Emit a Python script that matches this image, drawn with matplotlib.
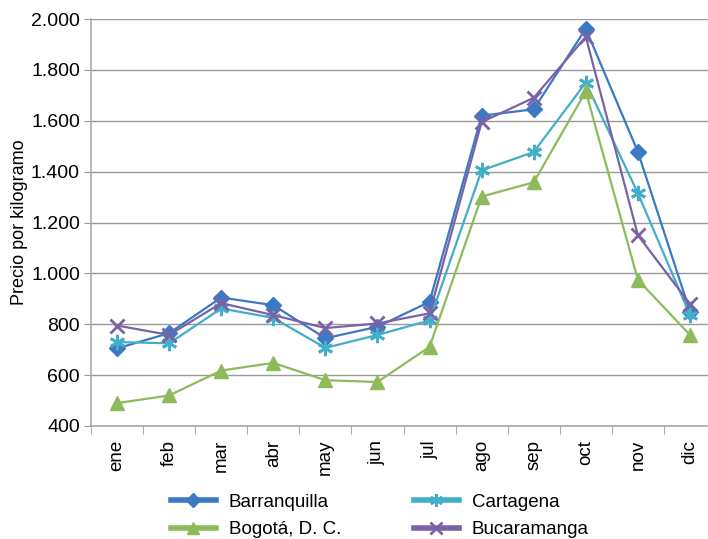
import matplotlib.pyplot as plt
from matplotlib.ticker import FuncFormatter

plt.rcParams["font.family"] = ["Liberation Sans", "DejaVu Sans"]

months = ["ene", "feb", "mar", "abr", "may", "jun", "jul", "ago", "sep", "oct", "nov", "dic"]
barranquilla = [705, 765, 905, 875, 745, 790, 888, 1620, 1645, 1962, 1478, 850]
cartagena = [730, 725, 862, 825, 707, 758, 815, 1405, 1477, 1750, 1315, 836]
bogota = [490, 520, 618, 648, 580, 573, 711, 1302, 1358, 1715, 975, 758]
bucaramanga = [795, 758, 883, 836, 785, 803, 843, 1595, 1690, 1930, 1150, 880]

fig = plt.figure(figsize=(7.08, 5.39), dpi=100)
ax = fig.add_axes([91 / 708, 113 / 539, 625 / 708, 407 / 539])

x = range(len(months))
l1, = ax.plot(x, barranquilla, color="#3C79C4", lw=1.6, marker="D", ms=8, label="Barranquilla")
l3, = ax.plot(x, cartagena, color="#41AECA", lw=1.6, marker=(6, 2, 0), ms=11, mew=2, label="Cartagena")
l2, = ax.plot(x, bogota, color="#8EBB5A", lw=1.6, marker="^", ms=10, label="Bogotá, D. C.")
l4, = ax.plot(x, bucaramanga, color="#7A62A6", lw=1.6, marker="x", ms=10, mew=2, label="Bucaramanga")

ax.set_xlim(-0.5, 11.5)
ax.set_ylim(400, 2000)
ax.set_yticks(range(400, 2001, 200))
ax.yaxis.set_major_formatter(FuncFormatter(lambda v, p: f"{int(v):,}".replace(",", ".")))
ax.set_xticks(list(x))
ax.set_xticklabels(months, rotation=90)
ax.set_xticks([i + 0.5 for i in range(-1, 12)], minor=True)
ax.tick_params(axis="x", which="major", length=0, labelsize=13.5, pad=10)
ax.tick_params(axis="x", which="minor", length=6, color="#999999")
ax.tick_params(axis="y", length=5, color="#999999", labelsize=14, pad=3)
ax.grid(axis="y", color="#999999", lw=1)
ax.set_axisbelow(True)
for s in ["top", "right"]:
    ax.spines[s].set_visible(False)
for s in ["left", "bottom"]:
    ax.spines[s].set_color("#aaaaaa")
    ax.spines[s].set_linewidth(1.2)
ax.set_ylabel("Precio por kilogramo", fontsize=13, labelpad=2)

leg = fig.legend(handles=[l1, l2, l3, l4], ncol=2, loc="upper left", bbox_to_anchor=(154 / 708, 1 - 477 / 539),
                 frameon=False, fontsize=13.5, handlelength=2.4, handletextpad=0.7,
                 columnspacing=3.85, labelspacing=0.55, markerscale=0.85)
for h in leg.legend_handles:
    h.set_linewidth(4)

fig.savefig("out.png", dpi=100)
